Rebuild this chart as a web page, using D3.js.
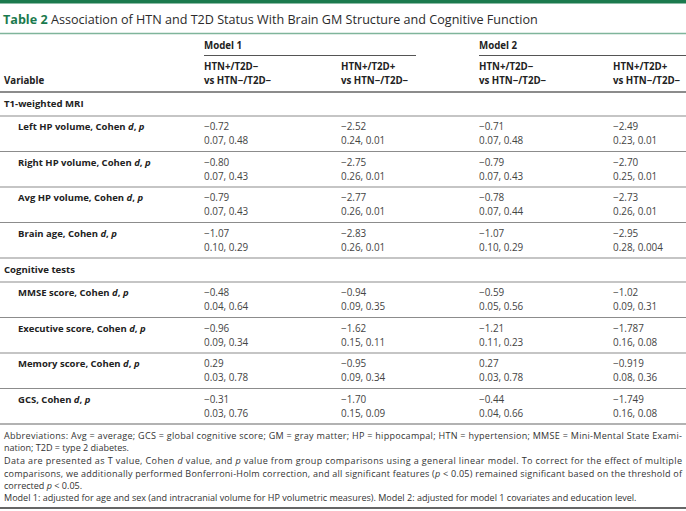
<!DOCTYPE html>
<html>
<head>
<meta charset="utf-8">
<script src="https://cdn.jsdelivr.net/npm/d3@7"></script>
<style>
body { margin: 0; background: #fff; }
text { font-family: "Open Sans", sans-serif; }
</style>
</head>
<body>
<div id="placeholder"></div>
<script>
var sections = ["T1-weighted MRI", "Cognitive tests"];
var variables = ["Left HP volume", "Right HP volume", "Avg HP volume", "Brain age",
                 "MMSE score", "Executive score", "Memory score", "GCS"];
var variableSection = [0, 0, 0, 0, 1, 1, 1, 1];
var models = ["Model 1", "Model 2"];
var comparisons = [["HTN+/T2D−", "vs HTN−/T2D−"], ["HTN+/T2D+", "vs HTN−/T2D−"]];

// T value, then "Cohen d, p" for each column
var tM1a = ["−0.72", "−0.80", "−0.79", "−1.07", "−0.48", "−0.96", "0.29", "−0.31"];
var dpM1a = ["0.07, 0.48", "0.07, 0.43", "0.07, 0.43", "0.10, 0.29", "0.04, 0.64", "0.09, 0.34", "0.03, 0.78", "0.03, 0.76"];
var tM1b = ["−2.52", "−2.75", "−2.77", "−2.83", "−0.94", "−1.62", "−0.95", "−1.70"];
var dpM1b = ["0.24, 0.01", "0.26, 0.01", "0.26, 0.01", "0.26, 0.01", "0.09, 0.35", "0.15, 0.11", "0.09, 0.34", "0.15, 0.09"];
var tM2a = ["−0.71", "−0.79", "−0.78", "−1.07", "−0.59", "−1.21", "0.27", "−0.44"];
var dpM2a = ["0.07, 0.48", "0.07, 0.43", "0.07, 0.44", "0.10, 0.29", "0.05, 0.56", "0.11, 0.23", "0.03, 0.78", "0.04, 0.66"];
var tM2b = ["−2.49", "−2.70", "−2.73", "−2.95", "−1.02", "−1.787", "−0.919", "−1.749"];
var dpM2b = ["0.23, 0.01", "0.25, 0.01", "0.26, 0.01", "0.28, 0.004", "0.09, 0.31", "0.16, 0.08", "0.08, 0.36", "0.16, 0.08"];

var W = 686, H = 511;
var green = "#1b7a4e";

var svg = d3.select("#placeholder").append("svg").attr("width", W).attr("height", H);

// columns
var colKeys = ["var", "m1a", "m1b", "m2a", "m2b"];
var x = d3.scaleOrdinal().domain(colKeys).range([4, 204, 341, 479, 613]);
var tCols = [tM1a, tM1b, tM2a, tM2b];
var dpCols = [dpM1a, dpM1b, dpM2a, dpM2b];

// rows: section header rows then variable rows
var rows = [];
sections.forEach(function (s, si) {
  rows.push({type: "section", label: s});
  variables.forEach(function (v, i) {
    if (variableSection[i] == si) rows.push({type: "var", label: v, i: i});
  });
});
var heights = rows.map(function (r) { return r.type == "section" ? 24 : 35.5; });
var tops = [0].concat(Array.from(d3.cumsum(heights)));
var tableTop = 92;
var y = d3.scaleLinear().domain([0, 1]).range([tableTop, tableTop + 1]);
rows.forEach(function (r, k) { r.top = y(tops[k]); r.bottom = y(tops[k + 1]); });

// top bar and title
svg.append("rect").attr("x", 0).attr("y", 0).attr("width", W).attr("height", 3.5).attr("fill", green);
var title = svg.append("text").attr("x", 3).attr("y", 20).attr("dy", "0.35em")
  .style("font-size", "12.6px").style("fill", "#2b2b2b");
title.append("tspan").text("Table 2").style("font-weight", "bold").style("fill", green);
title.append("tspan").text(" Association of HTN and T2D Status With Brain GM Structure and Cognitive Function");
svg.append("line").attr("x1", 0).attr("x2", W).attr("y1", 33.5).attr("y2", 33.5)
  .attr("stroke", "#7fb59b").attr("stroke-width", 1.6);

// header
var head = svg.append("g").style("font-size", "9.7px").style("font-weight", "bold").style("fill", "#222");
models.forEach(function (m, i) {
  var x0 = x(colKeys[1 + 2 * i]);
  var x1 = i == 0 ? x(colKeys[3]) - 63 : W;
  head.append("text").attr("x", x0).attr("y", 46).attr("dy", "0.35em").text(m);
  svg.append("line").attr("x1", x0).attr("x2", x1).attr("y1", 55.5).attr("y2", 55.5)
    .attr("stroke", "#555").attr("stroke-width", 1);
});
colKeys.slice(1).forEach(function (k, i) {
  var c = comparisons[i % 2];
  head.append("text").attr("x", x(k)).attr("y", 67).attr("dy", "0.35em").text(c[0]);
  head.append("text").attr("x", x(k)).attr("y", 81).attr("dy", "0.35em").text(c[1]);
});
head.append("text").attr("x", x("var")).attr("y", 81).attr("dy", "0.35em").text("Variable");
svg.append("line").attr("x1", 0).attr("x2", W).attr("y1", tableTop).attr("y2", tableTop)
  .attr("stroke", "#666").attr("stroke-width", 1.3);

// body rows
var row = svg.selectAll(".row").data(rows).enter().append("g").attr("class", "row");

row.append("line")
  .attr("x1", 0).attr("x2", W)
  .attr("y1", function (d) { return d.bottom; }).attr("y2", function (d) { return d.bottom; })
  .attr("stroke", function (d, k) { return k == rows.length - 1 ? "#666" : "#8c8c8c"; })
  .attr("stroke-width", 1.2);

row.filter(function (d) { return d.type == "section"; }).append("text")
  .attr("x", x("var")).attr("y", function (d) { return d.top + 12; }).attr("dy", "0.35em")
  .style("font-size", "9.6px").style("font-weight", "bold").style("fill", "#222")
  .text(function (d) { return d.label; });

var vr = row.filter(function (d) { return d.type == "var"; });
var lab = vr.append("text")
  .attr("x", x("var") + 14).attr("y", function (d) { return d.top + 11; }).attr("dy", "0.35em")
  .style("font-size", "9.5px").style("font-weight", "bold").style("fill", "#222");
lab.append("tspan").text(function (d) { return d.label + ", Cohen "; });
lab.append("tspan").text("d").style("font-style", "italic");
lab.append("tspan").text(", ");
lab.append("tspan").text("p").style("font-style", "italic");

colKeys.slice(1).forEach(function (k, c) {
  vr.append("text").attr("x", x(k)).attr("y", function (d) { return d.top + 11; }).attr("dy", "0.35em")
    .style("font-size", "9.9px").style("fill", "#444")
    .text(function (d) { return tCols[c][d.i]; });
  vr.append("text").attr("x", x(k)).attr("y", function (d) { return d.top + 25; }).attr("dy", "0.35em")
    .style("font-size", "9.9px").style("fill", "#444")
    .text(function (d) { return dpCols[c][d.i]; });
});

// footnotes; [text, italic?] pieces per line, justified lines fill the width
var notes = [
  {y: 436, just: true, parts: [["Abbreviations: Avg = average; GCS = global cognitive score; GM = gray matter; HP = hippocampal; HTN = hypertension; MMSE = Mini-Mental State Exami-"]]},
  {y: 448, parts: [["nation; T2D = type 2 diabetes."]]},
  {y: 461, just: true, parts: [["Data are presented as T value, Cohen "], ["d", 1], [" value, and "], ["p", 1], [" value from group comparisons using a general linear model. To correct for the effect of multiple"]]},
  {y: 473.5, just: true, parts: [["comparisons, we additionally performed Bonferroni-Holm correction, and all significant features ("], ["p", 1], [" < 0.05) remained significant based on the threshold of"]]},
  {y: 485.5, parts: [["corrected "], ["p", 1], [" < 0.05."]]},
  {y: 497.5, parts: [["Model 1: adjusted for age and sex (and intracranial volume for HP volumetric measures). Model 2: adjusted for model 1 covariates and education level."]]}
];
var foot = svg.append("g").style("font-size", "9.8px").style("fill", "#333");
var noteText = foot.selectAll("text").data(notes).enter().append("text")
  .attr("x", 0).attr("y", function (d) { return d.y; }).attr("dy", "0.35em");
noteText.each(function (d) {
  var t = d3.select(this);
  d.parts.forEach(function (p) {
    var s = t.append("tspan").text(p[0]);
    if (p[1]) s.style("font-style", "italic");
  });
});
// squeeze to the narrow footnote face: last line ends near x=637
var sx = 633 / noteText.filter(function (d, i) { return i == 5; }).node().getComputedTextLength();
foot.attr("transform", "translate(4,0) scale(" + sx + ",1)");
noteText.filter(function (d) { return d.just; })
  .attr("textLength", 678 / sx).attr("lengthAdjust", "spacing");

svg.append("line").attr("x1", 0).attr("x2", W).attr("y1", 508).attr("y2", 508)
  .attr("stroke", "#333").attr("stroke-width", 1.5);
</script>
</body>
</html>
